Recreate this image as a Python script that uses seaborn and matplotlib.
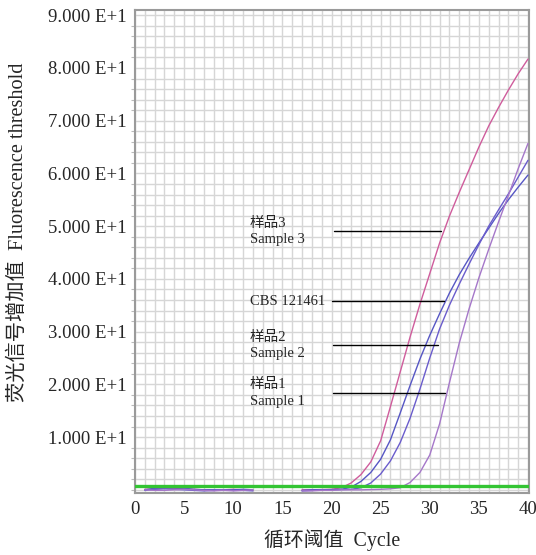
import numpy as np
import pandas as pd
import matplotlib
matplotlib.use("Agg")
import matplotlib.pyplot as plt
import seaborn as sns

nan = np.nan
cycles = list(range(1, 41))

sample3 = [0.1, 0.2, 0.3, 0.3, 0.2, 0.1, 0.0, -0.1, 0.0, 0.1, 0.0, -0.1,
           nan, nan, nan, nan,
           0.0, 0.0, 0.05, 0.1, 0.4, 1.3, 2.9, 5.3, 9.3, 15.8, 22.4, 29.0,
           35.2, 41.0, 46.8, 51.9, 56.4, 60.7, 65.0, 69.0, 72.5, 75.8, 78.9, 81.7]
cbs = [0.0, 0.3, 0.4, 0.4, 0.3, 0.1, 0.0, 0.0, -0.1, 0.0, 0.1, 0.0,
       nan, nan, nan, nan,
       -0.1, 0.0, 0.0, 0.05, 0.1, 0.5, 1.6, 3.3, 5.8, 9.5, 14.6, 19.8,
       24.8, 29.3, 33.4, 37.3, 40.8, 43.9, 46.8, 49.6, 52.4, 55.0, 57.4, 59.7]
sample2 = [-0.1, 0.1, 0.2, 0.1, 0.0, -0.1, -0.2, -0.1, 0.0, -0.1, -0.1, -0.2,
           nan, nan, nan, nan,
           -0.2, -0.1, 0.0, 0.0, 0.05, 0.1, 0.4, 1.3, 3.0, 5.5, 9.0, 13.6,
           19.1, 25.0, 30.5, 35.0, 39.0, 42.8, 46.5, 50.0, 53.1, 56.1, 59.3, 62.5]
sample1 = [0.0, -0.1, -0.1, 0.0, 0.1, 0.0, -0.1, -0.2, -0.1, -0.2, -0.1, 0.0,
           nan, nan, nan, nan,
           -0.2, -0.2, -0.1, -0.1, 0.0, 0.0, 0.0, 0.05, 0.1, 0.2, 0.4, 1.4,
           3.3, 6.6, 12.5, 20.3, 27.8, 34.3, 40.2, 45.6, 50.8, 55.8, 60.9, 65.7]

series_names = ["Sample 3", "CBS 121461", "Sample 2", "Sample 1"]
series_values = [sample3, cbs, sample2, sample1]
series_colors = ["#cf5c9c", "#5656c4", "#6a5ccc", "#a577c9"]

threshold = 0.7

y_ticks = [10, 20, 30, 40, 50, 60, 70, 80, 90]
y_tick_labels = ["1.000 E+1", "2.000 E+1", "3.000 E+1", "4.000 E+1", "5.000 E+1",
                 "6.000 E+1", "7.000 E+1", "8.000 E+1", "9.000 E+1"]
x_ticks = [0, 5, 10, 15, 20, 25, 30, 35, 40]

annot_text = ["样品3\nSample 3", "CBS 121461", "样品2\nSample 2", "样品1\nSample 1"]
annot_y = [49.0, 35.8, 27.4, 18.4]
annot_x0 = [20.3, 20.1, 20.2, 20.2]
annot_x1 = [31.1, 31.4, 30.8, 31.6]

rows = []
for name, vals in zip(series_names, series_values):
    seg = 0
    for c, v in zip(cycles, vals):
        if np.isnan(v):
            seg = 1
            continue
        rows.append({"cycle": c, "value": v, "series": name, "segment": seg})
df = pd.DataFrame(rows)

sns.set_style("white")
serif = ["Liberation Serif", "Noto Sans CJK SC"]
plt.rcParams["font.family"] = serif

fig = plt.figure(figsize=(5.36, 5.55), dpi=100)
ax = fig.add_axes([0.2519, 0.1117, 0.735, 0.8703])

# grid
ax.set_xticks(np.arange(0, 41, 1), minor=True)
ax.set_yticks(np.arange(0, 91, 2), minor=True)
ax.grid(True, which="both", color="#d6d6d6", linewidth=1.0, zorder=0)
ax.set_axisbelow(True)

for name, col in zip(series_names, series_colors):
    sub = df[df["series"] == name]
    sns.lineplot(data=sub, x="cycle", y="value", units="segment", ax=ax,
                 color=col, linewidth=1.0, estimator=None, sort=True,
                 legend=False, zorder=3)

ax.axhline(threshold, color="#33c433", linewidth=2.4, zorder=4)

for t, y, x0, x1 in zip(annot_text, annot_y, annot_x0, annot_x1):
    ax.plot([x0, x1], [y, y], color="black", linewidth=1.0, zorder=5)
    ax.text(11.7, y, t, ha="left", va="center", fontsize=10.5,
            family=serif, linespacing=1.35, zorder=6)

ax.set_xlim(0, 40.1)
ax.set_ylim(-0.6, 91.0)
ax.set_xticks(x_ticks)
ax.set_xticklabels([str(v) for v in x_ticks], fontsize=13.5, family=serif)
ax.set_yticks(y_ticks)
ax.set_yticklabels(y_tick_labels, fontsize=13.5, family=serif)
ax.tick_params(axis="both", which="major", direction="out", length=4,
               color="#999999", width=1.0, pad=2)
ax.tick_params(axis="y", which="minor", direction="out", length=3,
               color="#bbbbbb", width=0.8, left=True)
ax.tick_params(axis="x", which="minor", length=0)

for s in ax.spines.values():
    s.set_color("#9a9a9a")
    s.set_linewidth(1.5)

ax.set_xlabel("循环阈值  Cycle", fontsize=14.3, family=serif, labelpad=8)
ax.set_ylabel("荧光信号增加值  Fluorescence threshold", fontsize=14.6,
              family=serif)
ax.yaxis.set_label_coords(-0.272, 0.540)

fig.savefig("out.png", dpi=100)
